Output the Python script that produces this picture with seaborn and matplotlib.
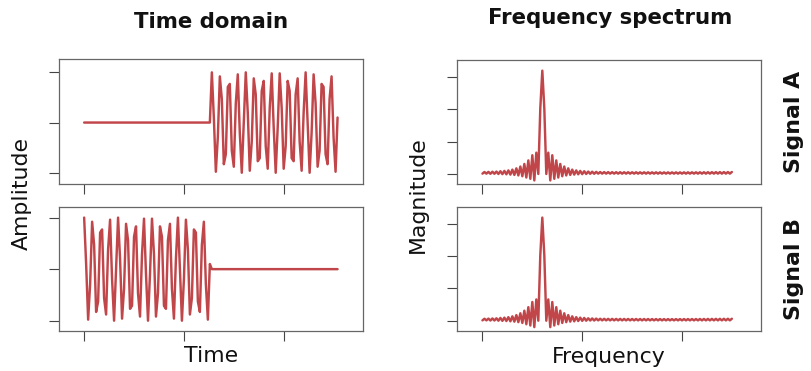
import numpy as np
import pandas as pd
import matplotlib
matplotlib.use("Agg")
import matplotlib.pyplot as plt
import seaborn as sns

# ---- data ----
wave = [1.00, 0.10, -0.98, -0.29, 0.92, 0.47, -0.83, -0.63, 0.71, 0.77, -0.56, -0.88,
        0.38, 0.96, -0.20, -1.00, 0.00, 1.00, 0.20, -0.96, -0.38, 0.88, 0.56, -0.77,
        -0.71, 0.63, 0.83, -0.47, -0.92, 0.29, 0.98, -0.10, -1.00, -0.10, 0.98, 0.29,
        -0.92, -0.47, 0.83, 0.63, -0.71, -0.77, 0.56, 0.88, -0.38, -0.96, 0.20, 1.00,
        0.00, -1.00, -0.20, 0.96, 0.38, -0.88, -0.56, 0.77, 0.71, -0.63, -0.83, 0.47,
        0.92, -0.29, -0.98, 0.10]
silence = [0.0] * 64
signal_a = silence + wave
signal_b = wave + silence

spectrum_left = [0.1, 0.6, 0.1, 0.65, 0.05, 0.7, 0.05, 0.75, 0.0, 0.85, -0.05, 0.95,
                 -0.1, 1.1, -0.2, 1.35, -0.3, 1.75, -0.45, 2.3, -0.7, 3.1, -1.1, 4.2,
                 -1.5, 5.8, -2.0, 6.6, 0.0, 20.4]
spectrum_peak = [32.0]
spectrum_right = [20.4, 0.0, 6.6, -2.0, 5.8, -1.5, 4.2, -1.1, 3.1, -0.7, 2.3, -0.45,
                  1.75, -0.3, 1.35, -0.2, 1.1, -0.1, 0.95, -0.05, 0.85, 0.0, 0.75, 0.05,
                  0.7, 0.05, 0.65, 0.1, 0.6, 0.1,
                  0.58, 0.1, 0.57, 0.1, 0.56, 0.1, 0.55, 0.1, 0.55, 0.1, 0.54, 0.1,
                  0.54, 0.1, 0.53, 0.1, 0.53, 0.1, 0.52, 0.1, 0.52, 0.1, 0.52, 0.1,
                  0.51, 0.1, 0.51, 0.1, 0.51, 0.1, 0.5, 0.1, 0.5, 0.1, 0.5, 0.1,
                  0.5, 0.1, 0.5, 0.1, 0.51, 0.1, 0.51, 0.1, 0.52, 0.1, 0.52, 0.1,
                  0.53, 0.1, 0.54, 0.1, 0.55, 0.1, 0.56, 0.1, 0.57, 0.1, 0.58, 0.1,
                  0.59, 0.1, 0.6, 0.1, 0.61]
spectrum_a = spectrum_left + spectrum_peak + spectrum_right
spectrum_b = list(spectrum_a)

x_ticks = [0, 50, 100]
amp_ticks = [-1, 0, 1]
mag_ticks = [0, 10, 20, 30]

col_titles = ["Time domain", "Frequency spectrum"]
row_labels = ["Signal A", "Signal B"]

# ---- styling ----
sns.set_theme(style="ticks")
plt.rcParams['font.family'] = ['DejaVu Sans']
LINE = "#C0464A"
W, H = 812, 371

fig = plt.figure(figsize=(W / 100, H / 100), dpi=100)


def add_ax(l, t, r, b):
    return fig.add_axes([l / W, 1 - b / H, (r - l) / W, (b - t) / H])


def style(ax, yticks, ylim):
    ax.set_xlim(-12.6, 139.6)
    ax.set_ylim(*ylim)
    ax.set_xticks(x_ticks)
    ax.set_yticks(yticks)
    ax.tick_params(direction="out", length=7.5, width=0.8, color="#444444",
                   labelbottom=False, labelleft=False)
    for s in ax.spines.values():
        s.set_visible(True)
        s.set_color("#666666")
        s.set_linewidth(0.9)
    ax.set_xlabel("")
    ax.set_ylabel("")


panels = [
    ((59, 59.3, 362.7, 184.3), signal_a, amp_ticks, (-1.23, 1.26)),
    ((59, 207.3, 362.7, 331), signal_b, amp_ticks, (-1.2, 1.2)),
    ((457.3, 60, 761, 184.3), spectrum_a, mag_ticks, (-3.2, 35.3)),
    ((457.3, 207.3, 761, 331), spectrum_b, mag_ticks, (-3.2, 35.2)),
]

for box, values, yt, yl in panels:
    ax = add_ax(*box)
    df = pd.DataFrame({"x": np.arange(len(values)), "y": values})
    sns.lineplot(data=df, x="x", y="y", ax=ax, color=LINE, linewidth=1.75,
                 estimator=None, sort=True)
    style(ax, yt, yl)

# ---- texts ----
def ftext(px, py, s, **kw):
    fig.text(px / W, 1 - py / H, s, ha="center", va="center", color="#111111", **kw)

ftext(211, 22, col_titles[0], fontsize=15.3, fontweight="bold")
ftext(610, 18, col_titles[1], fontsize=15.3, fontweight="bold")
ftext(22, 194, "Amplitude", fontsize=15.8, rotation=90)
ftext(418, 195, "Magnitude", fontsize=15.8, rotation=90)
ftext(211, 356, "Time", fontsize=15.8)
ftext(609, 357, "Frequency", fontsize=15.8)
ftext(794, 122, row_labels[0], fontsize=15.8, fontweight="bold", rotation=90)
ftext(794, 269, row_labels[1], fontsize=15.8, fontweight="bold", rotation=90)

fig.savefig("out.png", dpi=100)
